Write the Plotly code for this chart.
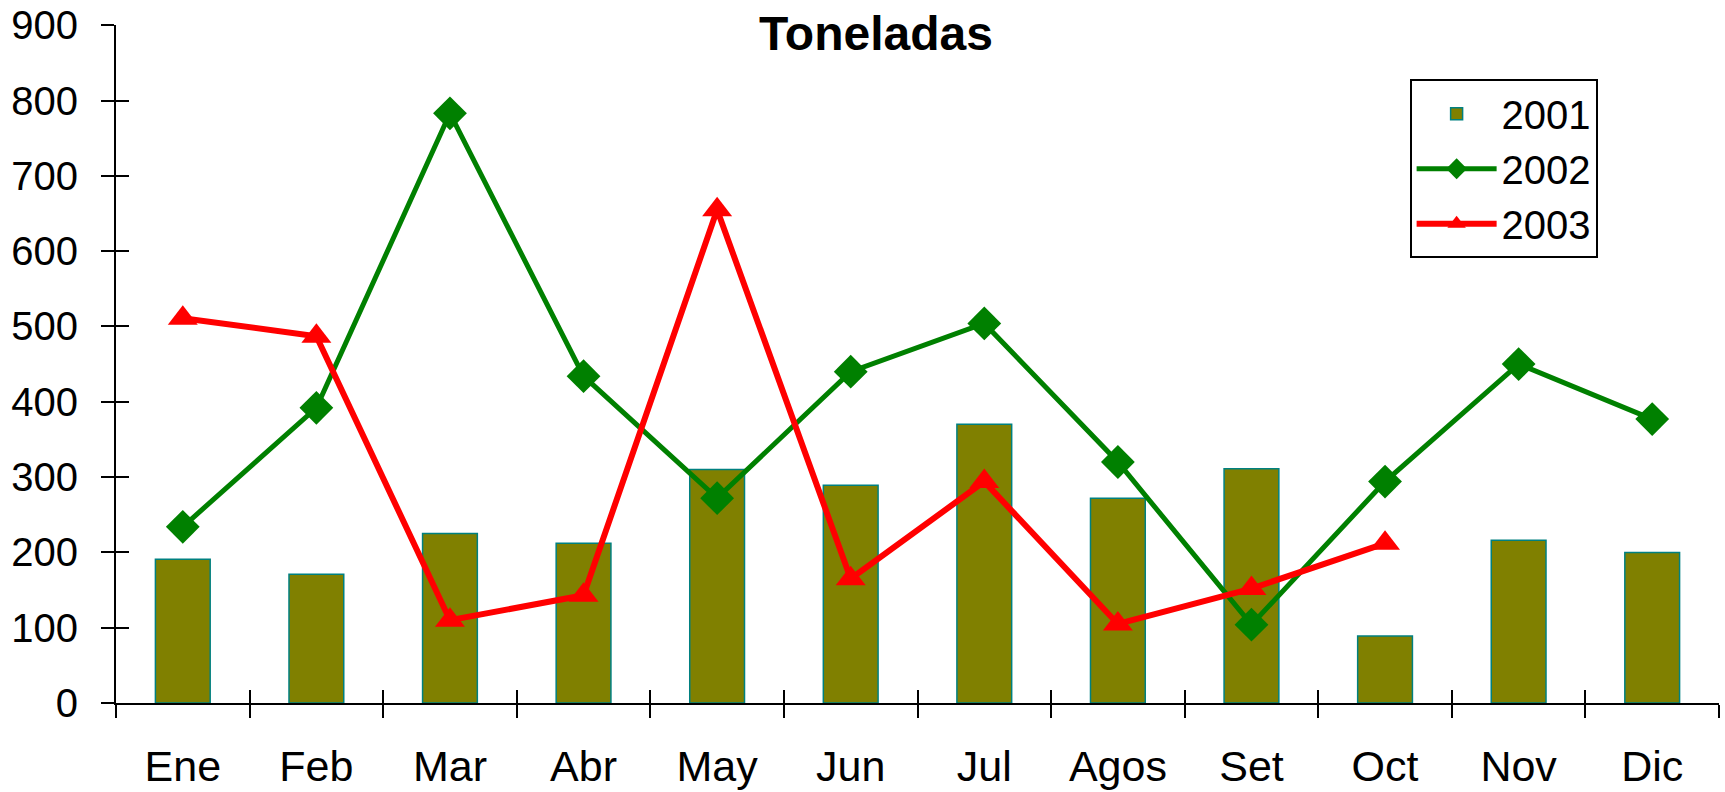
import plotly.graph_objects as go

# ─────────────────────────────────
# Datos
# ─────────────────────────────────
meses = ["Ene", "Feb", "Mar", "Abr", "May", "Jun", "Jul", "Agos", "Set", "Oct", "Nov", "Dic"]
t2001 = [191, 171, 225, 212, 310, 289, 370, 272, 311, 89, 216, 200]
t2002 = [234, 392, 783, 434, 272, 440, 504, 320, 104, 294, 450, 377]
t2003 = [511, 487, 110, 143, 655, 165, 294, 105, 152, 212, None, None]
y_ticks = [0, 100, 200, 300, 400, 500, 600, 700, 800, 900]

FONT = "Arial, Liberation Sans, sans-serif"

W, H = 1725, 792
Y_RANGE = [0, 900.3]

fig = go.Figure()

fig.add_trace(go.Bar(
    x=meses, y=t2001, name="2001", width=0.41,
    marker=dict(color="#808000", line=dict(color="#008080", width=1.5)),
    legendgroup="a",
))
fig.add_trace(go.Scatter(
    x=meses, y=t2002, name="2002", mode="lines+markers",
    line=dict(color="#008000", width=5),
    marker=dict(symbol="diamond", size=26, color="#008000"),
    legendgroup="b",
))
fig.add_trace(go.Scatter(
    x=meses, y=t2003, name="2003", mode="lines+markers",
    line=dict(color="#ff0000", width=6),
    marker=dict(symbol="triangle-up", size=26, color="#ff0000"),
    legendgroup="c",
))

# eje extra solo para que las marcas crucen los ejes
fig.add_trace(go.Scatter(x=meses, y=t2001, xaxis="x2", yaxis="y2",
                         mode="none", showlegend=False, hoverinfo="skip"))

eje = dict(showgrid=False, zeroline=False, showline=True, linecolor="black",
           linewidth=2, tickcolor="black", tickwidth=2, ticklen=13,
           automargin=False, ticklabeloverflow="allow")

fig.update_layout(
    width=W, height=H,
    margin=dict(l=116, r=6, t=25, b=89),
    plot_bgcolor="white", paper_bgcolor="white",
    font=dict(family=FONT, size=42, color="black"),
    title=dict(text="<b>Toneladas</b>", x=876 / W, xanchor="center",
               y=1 - 33.5 / H, yanchor="middle", yref="container",
               font=dict(size=48)),
    xaxis=dict(**eje, type="category", range=[-0.5, 11.5], ticks="outside",
               tickson="boundaries", ticklabelstandoff=24,
               tickfont=dict(size=43)),
    yaxis=dict(**eje, range=Y_RANGE, tickvals=y_ticks, ticks="outside",
               ticklabelstandoff=15, tickfont=dict(size=40)),
    xaxis2=dict(**eje, type="category", range=[-0.5, 11.5], ticks="inside",
                tickson="boundaries", overlaying="x", showticklabels=False,
                anchor="y2"),
    yaxis2=dict(**eje, range=Y_RANGE, tickvals=y_ticks, ticks="inside",
                overlaying="y", showticklabels=False, anchor="x2"),
    legend=dict(x=0.807, y=0.920, xanchor="left", yanchor="top",
                bordercolor="black", borderwidth=2, bgcolor="white",
                font=dict(size=40), tracegroupgap=0, itemwidth=80),
    showlegend=True,
)

# quitar el margen por defecto del body para que la figura empiece en 0,0
fig.write_html("out.html", config={"displayModeBar": False},
               post_script="document.body.style.margin='0';")
